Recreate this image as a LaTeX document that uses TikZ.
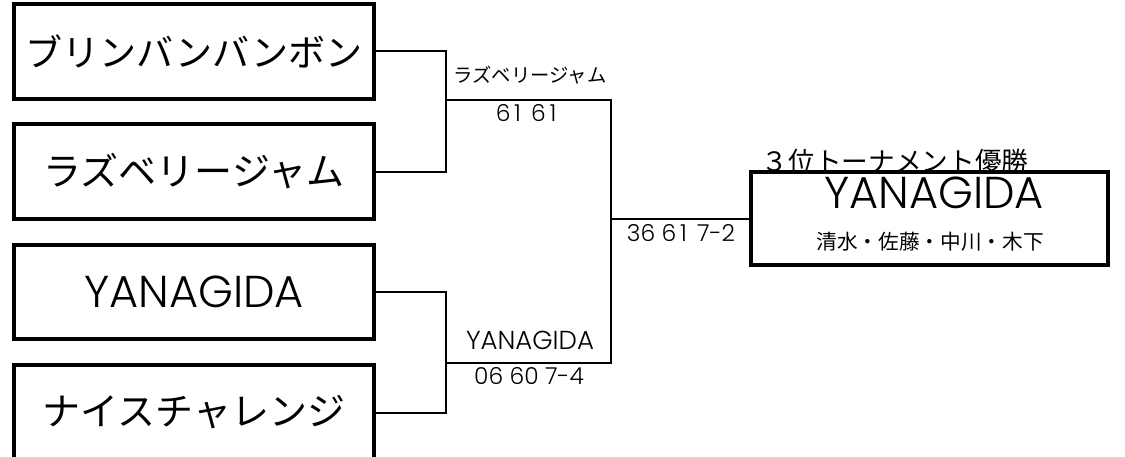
\documentclass[tikz,border=0pt]{standalone}
\usepackage{fontspec}
\usepackage{calc}
\newfontfamily\jp{Noto Sans CJK JP}
\newfontfamily\lat{Poppins}[UprightFont={* Light}]
\newcommand\wone{\makebox[\widthof{0}]{1}}
\begin{document}
\begin{tikzpicture}[x=0.75pt,y=-0.75pt,
  team/.style={draw, line width=3pt, minimum width=270pt, minimum height=71.25pt, inner sep=0pt},
  conn/.style={line width=1.5pt, line join=miter},
  bigjp/.style={font=\jp\fontsize{28.5pt}{30pt}\selectfont},
  biglat/.style={font=\lat\fontsize{33.5pt}{35pt}\selectfont},
  smalljp/.style={font=\jp\fontsize{14.5pt}{16pt}\selectfont, inner sep=0pt},
  smalllat/.style={font=\lat\fontsize{19.5pt}{21pt}\selectfont, inner sep=0pt},
  score/.style={font=\lat\fontsize{17.5pt}{19pt}\selectfont, inner sep=0pt}]
\useasboundingbox (0,0) rectangle (1125,457);
\fill[white] (0,0) rectangle (1125,457);
\clip (0,0) rectangle (1125,457);

% team boxes
\node[team, bigjp, font=\jp\fontsize{27.8pt}{30pt}\selectfont] (b1) at (194,51) {ブリンバンバンボン};
\node[team, bigjp] (b2) at (194,171.5) {ラズベリージャム};
\node[team, biglat, minimum height=70.5pt] (b3) at (194,292) {YANAGIDA};
\node[team, bigjp] (b4) at (194,412.5) {ナイスチャレンジ};

% final box
\node[draw, line width=3pt, minimum width=268pt, minimum height=69.4pt, inner sep=0pt] (fin) at (929.7,218.75) {};
\node[biglat, inner sep=0pt] (finname) at (934,193) {YANAGIDA};
\node[font=\jp\fontsize{15.5pt}{17pt}\selectfont, inner sep=0pt] (finmem) at (930,242) {清水・佐藤・中川・木下};
\node[font=\jp\fontsize{20pt}{22pt}\selectfont, inner sep=0pt] (fintitle) at (895,161) {３位トーナメント優勝};

% junction coordinates
\coordinate (m1) at (446,100);
\coordinate (m2) at (446,363);
\coordinate (f) at (611,218.75);

% connectors
\draw[conn] (b1.east) -| (m1) |- (b2.east);
\draw[conn] (b3.east) -| (m2) |- (b4.east);
\draw[conn] (m1) -| (f) |- (m2);
\draw[conn] (f) -- (fin.west);

% labels
\node[smalljp] (w1) at (530,75) {ラズベリージャム};
\node[score] (s1) at (528,113) {6\wone{} 6\wone};
\node[smalllat] (w2) at (530,340) {YANAGIDA};
\node[score] (s2) at (529,376) {06 60 7-4};
\node[score] (s3) at (681,233) {36 6\wone{} 7-2};
\end{tikzpicture}
\end{document}
